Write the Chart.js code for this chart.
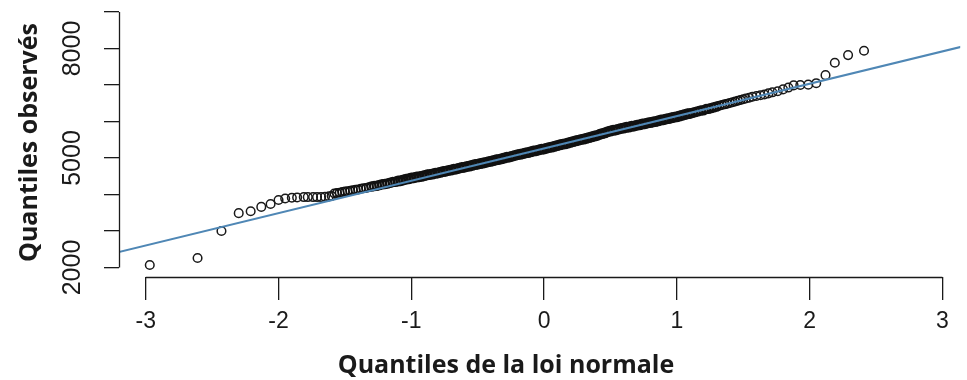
<!DOCTYPE html>
<html>
<head>
<meta charset="utf-8">
<script src="https://cdn.jsdelivr.net/npm/chart.js@4"></script>
<style>
  html, body { margin: 0; padding: 0; background: #fff; }
  #wrap { width: 967px; height: 380px; }
</style>
</head>
<body>
<div id="wrap"><canvas id="qq" width="967" height="380"></canvas></div>
<script>
// Axis texts and ticks
const xTitle = "Quantiles de la loi normale";
const yTitle = "Quantiles observés";
const xTicks = [-3, -2, -1, 0, 1, 2, 3];
const yTicks = [2000, 3000, 4000, 5000, 6000, 7000, 8000, 9000];
const yLabelled = [2000, 5000, 8000];

// Lower tail (theoretical quantile, observed value)
const lowQ = [-2.97, -2.61, -2.43, -2.30, -2.21, -2.13, -2.06, -2.00, -1.95, -1.90,
  -1.86, -1.81, -1.78, -1.74, -1.71, -1.68, -1.65, -1.62, -1.60];
const lowV = [2070, 2260, 3000, 3490, 3540, 3660, 3740, 3850, 3890, 3910,
  3920, 3930, 3930, 3930, 3930, 3930, 3940, 3950, 3960];

// Dense middle band, read along the black band
const bandQ = [
  -1.58, -1.56, -1.54, -1.52, -1.50, -1.48, -1.46, -1.44, -1.42, -1.40,
  -1.38, -1.36, -1.34, -1.32, -1.30, -1.28, -1.26, -1.24, -1.22, -1.20,
  -1.18, -1.16, -1.14, -1.12, -1.10, -1.08, -1.06, -1.04, -1.02, -1.00,
  -0.98, -0.96, -0.94, -0.92, -0.90, -0.88, -0.86, -0.84, -0.82, -0.80,
  -0.78, -0.76, -0.74, -0.72, -0.70, -0.68, -0.66, -0.64, -0.62, -0.60,
  -0.58, -0.56, -0.54, -0.52, -0.50, -0.48, -0.46, -0.44, -0.42, -0.40,
  -0.38, -0.36, -0.34, -0.32, -0.30, -0.28, -0.26, -0.24, -0.22, -0.20,
  -0.18, -0.16, -0.14, -0.12, -0.10, -0.08, -0.06, -0.04, -0.02, 0.00,
  0.02, 0.04, 0.06, 0.08, 0.10, 0.12, 0.14, 0.16, 0.18, 0.20,
  0.22, 0.24, 0.26, 0.28, 0.30, 0.32, 0.34, 0.36, 0.38, 0.40,
  0.42, 0.44, 0.46, 0.48, 0.50, 0.52, 0.54, 0.56, 0.58, 0.60,
  0.62, 0.64, 0.66, 0.68, 0.70, 0.72, 0.74, 0.76, 0.78, 0.80,
  0.82, 0.84, 0.86, 0.88, 0.90, 0.92, 0.94, 0.96, 0.98, 1.00,
  1.02, 1.04, 1.06, 1.08, 1.10, 1.12, 1.14, 1.16, 1.18, 1.20,
  1.22, 1.24, 1.26, 1.28, 1.30, 1.32, 1.34, 1.36, 1.38, 1.40,
  1.42, 1.44, 1.46, 1.48];
const bandV = [
  4030, 4040, 4050, 4070, 4080, 4090, 4100, 4120, 4130, 4140,
  4160, 4170, 4180, 4200, 4220, 4230, 4240, 4260, 4280, 4290,
  4300, 4320, 4340, 4350, 4370, 4380, 4400, 4420, 4430, 4450,
  4460, 4480, 4490, 4500, 4520, 4540, 4550, 4560, 4580, 4590,
  4610, 4630, 4640, 4660, 4670, 4690, 4700, 4720, 4740, 4750,
  4770, 4780, 4800, 4820, 4830, 4850, 4860, 4880, 4900, 4910,
  4930, 4950, 4960, 4980, 5000, 5020, 5030, 5050, 5070, 5090,
  5100, 5120, 5140, 5150, 5170, 5190, 5200, 5220, 5240, 5250,
  5270, 5290, 5300, 5320, 5340, 5360, 5380, 5390, 5410, 5430,
  5450, 5470, 5490, 5510, 5520, 5540, 5560, 5580, 5600, 5620,
  5650, 5670, 5690, 5720, 5740, 5760, 5770, 5790, 5810, 5820,
  5840, 5850, 5870, 5880, 5900, 5910, 5930, 5940, 5960, 5970,
  5990, 6000, 6020, 6040, 6050, 6070, 6080, 6100, 6120, 6130,
  6150, 6170, 6190, 6210, 6220, 6240, 6260, 6280, 6300, 6310,
  6340, 6350, 6370, 6390, 6410, 6430, 6450, 6470, 6490, 6510,
  6530, 6550, 6570, 6590];

// Upper tail
const highQ = [1.50, 1.52, 1.545, 1.57, 1.60, 1.63, 1.66, 1.69, 1.72, 1.76,
  1.80, 1.84, 1.88, 1.93, 1.99, 2.05, 2.12, 2.19, 2.29, 2.41];
const highV = [6610, 6630, 6650, 6680, 6700, 6720, 6740, 6770, 6800, 6830,
  6880, 6930, 6990, 7000, 7010, 7050, 7270, 7610, 7820, 7940];

// qqline end points
const lineQ = [-3.3, 3.3];
const lineV = [2339, 8187];

const toPts = (qs, vs) => qs.map((q, i) => ({ x: q, y: vs[i] }));
const ink = "#1a1a1a";

// R-style axes: line only from first to last tick, plus x title
const rAxes = {
  id: "rAxes",
  afterDraw(chart) {
    const { ctx, scales: { x, y } } = chart;
    ctx.save();
    ctx.strokeStyle = ink;
    ctx.lineWidth = 1.3;
    ctx.beginPath();
    const ax = Math.round(y.right) + 0.5;
    ctx.moveTo(ax, y.getPixelForValue(yTicks[0]));
    ctx.lineTo(ax, y.getPixelForValue(yTicks[yTicks.length - 1]));
    const ay = Math.round(x.top) + 0.5;
    ctx.moveTo(x.getPixelForValue(xTicks[0]), ay);
    ctx.lineTo(x.getPixelForValue(xTicks[xTicks.length - 1]), ay);
    ctx.stroke();
    ctx.fillStyle = ink;
    ctx.font = 'bold 25px "Open Sans"';
    ctx.textAlign = "center";
    ctx.textBaseline = "alphabetic";
    ctx.fillText(xTitle, 506, 373);
    ctx.restore();
  }
};

const circle = {
  pointStyle: "circle",
  pointRadius: 4.3,
  borderWidth: 1.5,
  borderColor: ink,
  backgroundColor: "rgba(0,0,0,0)",
  order: 1
};

// band rings get heavier where the points pile up into a solid band
const bandWidth = (c) => {
  const q = c.raw ? Math.abs(c.raw.x) : 0;
  return q > 1.3 ? 1.6 : q > 1.1 ? 2.1 : 2.6;
};

const ctx = document.getElementById("qq").getContext("2d");
new Chart(ctx, {
  type: "scatter",
  data: {
    datasets: [
      {
        label: "qqline",
        data: toPts(lineQ, lineV),
        showLine: true,
        borderColor: "#4f87b5",
        borderWidth: 2,
        pointRadius: 0,
        order: 0
      },
      { label: "lower tail", data: toPts(lowQ, lowV), ...circle },
      { label: "band", data: toPts(bandQ, bandV), ...circle, pointRadius: 4.2, borderWidth: bandWidth, borderColor: "#111" },
      { label: "upper tail", data: toPts(highQ, highV), ...circle }
    ]
  },
  options: {
    responsive: false,
    animation: false,
    devicePixelRatio: 1,
    layout: { padding: { top: 8, left: 0, right: 0, bottom: 0 } },
    plugins: { legend: { display: false }, tooltip: { enabled: false } },
    scales: {
      x: {
        type: "linear",
        min: -3.2018,
        max: 3.1345,
        afterBuildTicks: (axis) => { axis.ticks = xTicks.map(v => ({ value: v })); },
        afterFit: (axis) => {
          axis.height = 103;
          axis.paddingLeft = 0;
          axis.paddingRight = 0;
        },
        border: { display: false },
        grid: { drawOnChartArea: false, drawTicks: true, tickLength: 23, color: ink, lineWidth: 1.3 },
        ticks: {
          autoSkip: false,
          maxRotation: 0,
          padding: 8,
          color: ink,
          font: { family: "Liberation Sans", size: 23 },
          callback: (v) => String(v)
        }
      },
      y: {
        type: "linear",
        min: 1740,
        max: 9110,
        afterBuildTicks: (axis) => { axis.ticks = yTicks.map(v => ({ value: v })); },
        afterFit: (axis) => {
          axis.width = 119;
          axis.paddingTop = 0;
          axis.paddingBottom = 0;
        },
        border: { display: false },
        grid: { drawOnChartArea: false, drawTicks: true, tickLength: 15, color: ink, lineWidth: 1.3 },
        ticks: {
          autoSkip: false,
          minRotation: 90,
          maxRotation: 90,
          crossAlign: "center",
          padding: 3,
          color: ink,
          font: { family: "Liberation Sans", size: 25 },
          callback: (v) => (yLabelled.includes(v) ? String(v) : "")
        },
        title: {
          display: true,
          text: yTitle,
          color: ink,
          font: { family: "Open Sans", size: 25, weight: "bold" },
          padding: { top: 15, bottom: 0 }
        }
      }
    }
  },
  plugins: [rAxes]
});
</script>
</body>
</html>
